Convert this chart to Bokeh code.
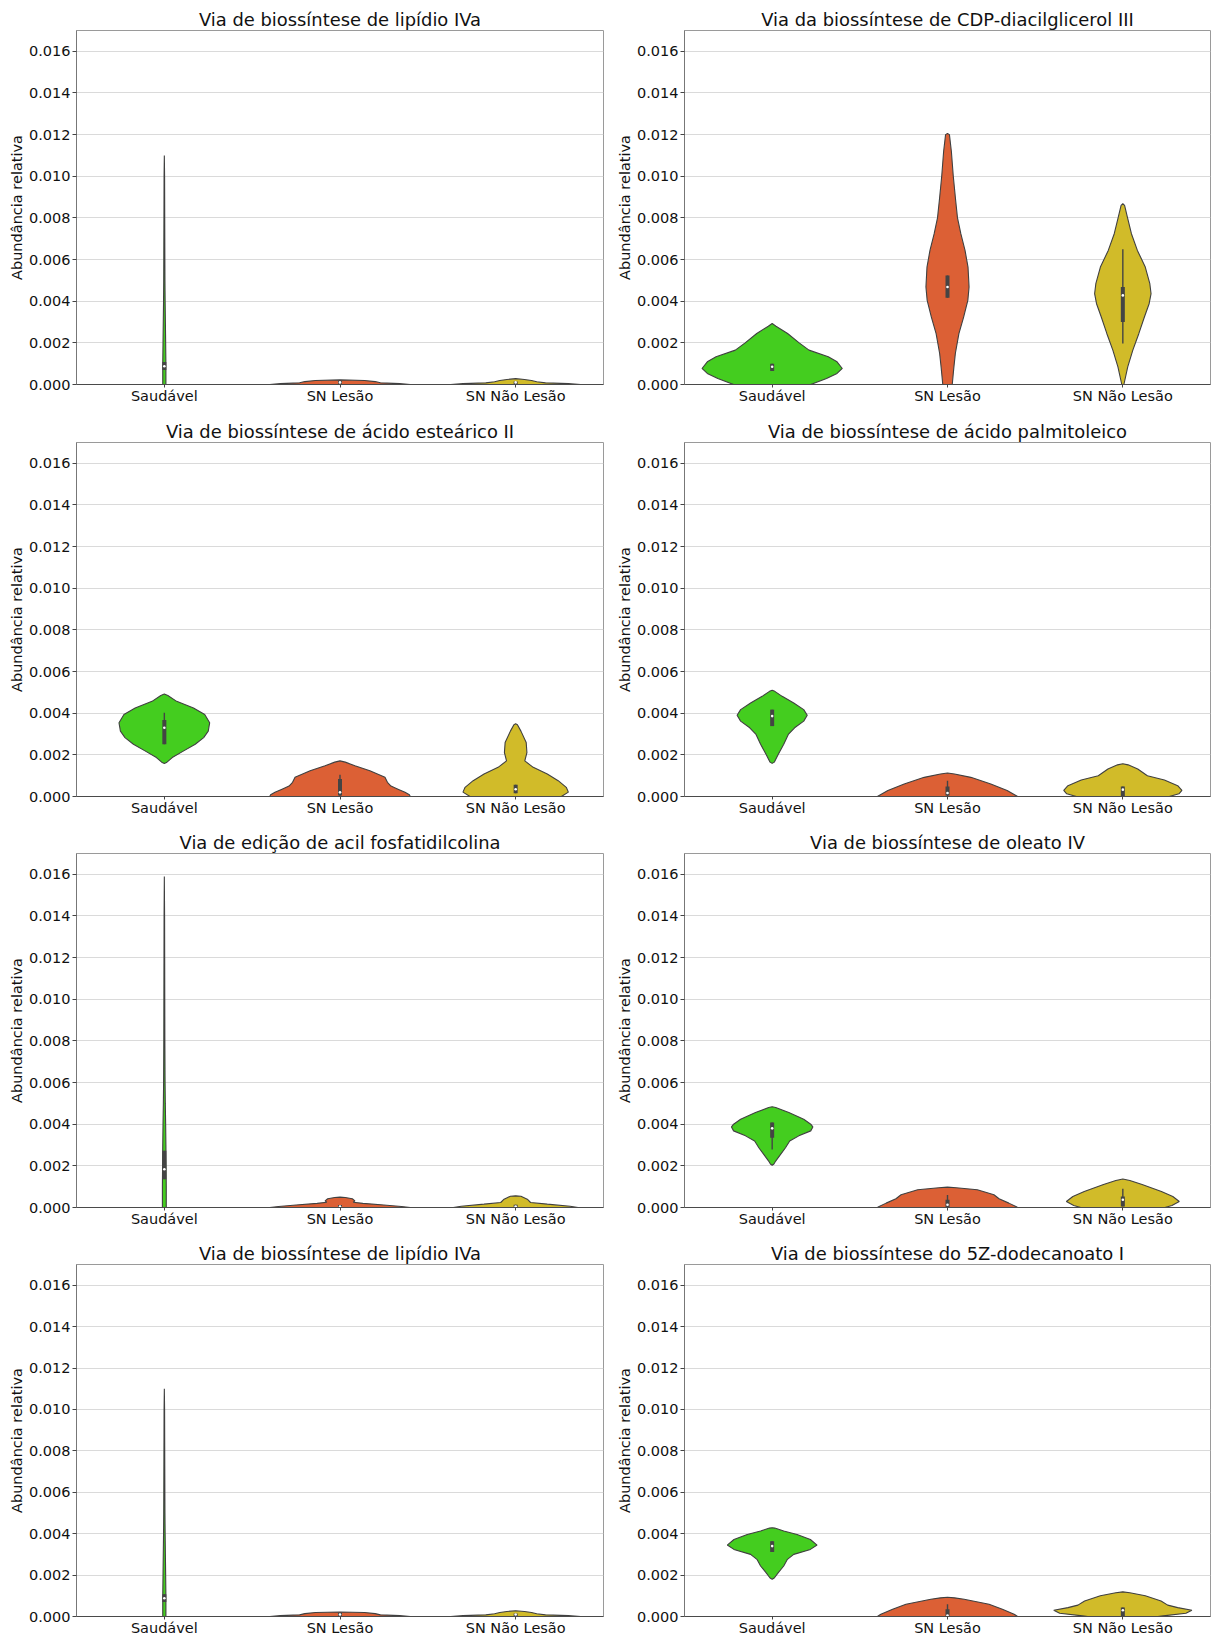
from bokeh.plotting import figure
from bokeh.layouts import gridplot
from bokeh.models import Range1d, FixedTicker, PrintfTickFormatter
from bokeh.embed import file_html
from bokeh.resources import INLINE

GROUPS = ["Saudável", "SN Lesão", "SN Não Lesão"]
FILLS = ["#44cd1f", "#dc6035", "#d1bb29"]
EDGE = "#404040"
Y_TICKS = [0.000, 0.002, 0.004, 0.006, 0.008, 0.010, 0.012, 0.014, 0.016]
Y_MAX = 0.017
FONT = "DejaVu Sans"

# Violin outlines per pathway: abundance levels (bottom to top) and the
# matching half widths in category units, one list per group.
# Inner boxes: lower whisker, q1, median, q3, upper whisker.

lipidio_y = [
    [-0.0005, 0.0, 0.001, 0.002, 0.003, 0.004, 0.005, 0.006, 0.008, 0.010, 0.0110],
    [-0.0005, 0.0, 0.00004, 0.00008, 0.00014, 0.00019, 0.00022],
    [-0.0005, 0.0, 0.00004, 0.00008, 0.00013, 0.00019, 0.00024, 0.00028],
]
lipidio_w = [
    [0.009, 0.009, 0.009, 0.0075, 0.006, 0.0045, 0.0035, 0.003, 0.0022, 0.0015, 0.0],
    [0.40, 0.40, 0.34, 0.23, 0.20, 0.14, 0.0],
    [0.37, 0.37, 0.30, 0.17, 0.12, 0.09, 0.05, 0.0],
]
lipidio_box = [
    [0.0007, 0.0007, 0.00088, 0.00108, 0.00108],
    [0.00004, 0.00004, 0.0001, 0.00018, 0.00018],
    [0.00003, 0.00003, 0.0001, 0.00015, 0.00015],
]

cdp_y = [
    [-0.0005, 0.0, 0.00029, 0.00053, 0.00077, 0.00109, 0.00133, 0.00165, 0.002, 0.00245, 0.0028, 0.00293],
    [-0.0006, 0.0, 0.0008, 0.0015, 0.00244, 0.00324, 0.00404, 0.00468, 0.00564, 0.00644,
     0.00724, 0.008, 0.0088, 0.010, 0.0112, 0.012, 0.01205],
    [-0.0001, 0.0, 0.00085, 0.00165, 0.00244, 0.00324, 0.00388, 0.00436, 0.00484, 0.00564,
     0.00644, 0.00724, 0.008, 0.0086, 0.00868],
]
cdp_w = [
    [0.10, 0.22, 0.31, 0.37, 0.40, 0.37, 0.32, 0.21, 0.154, 0.088, 0.022, 0.0],
    [0.012, 0.027, 0.036, 0.045, 0.065, 0.092, 0.116, 0.123, 0.117, 0.10,
     0.076, 0.057, 0.047, 0.033, 0.022, 0.011, 0.0],
    [0.0, 0.006, 0.028, 0.057, 0.091, 0.123, 0.15, 0.161, 0.154, 0.128,
     0.083, 0.049, 0.027, 0.01, 0.0],
]
cdp_box = [
    [0.00065, 0.00065, 0.00085, 0.001, 0.001],
    [0.00416, 0.00416, 0.00468, 0.00524, 0.00524],
    [0.00197, 0.003, 0.00428, 0.00468, 0.00649],
]

estearico_y = [
    [0.00159, 0.00165, 0.00187, 0.00219, 0.00251, 0.00283, 0.00314, 0.00354, 0.00394, 0.00425, 0.00457, 0.00485, 0.00492],
    [-0.0005, 0.0, 0.00008, 0.0002, 0.00035, 0.0005, 0.00068, 0.00092, 0.00124, 0.00148, 0.00165, 0.00171],
    [-0.0002, -0.0001, 0.0, 0.00021, 0.00044, 0.00076, 0.00108, 0.0014, 0.00171, 0.00211,
     0.00259, 0.00314, 0.00345, 0.00349],
]
estearico_w = [
    [0.0, 0.015, 0.045, 0.11, 0.176, 0.224, 0.25, 0.258, 0.23, 0.166, 0.07, 0.02, 0.0],
    [0.40, 0.40, 0.395, 0.37, 0.33, 0.29, 0.27, 0.256, 0.17, 0.085, 0.03, 0.0],
    [0.15, 0.22, 0.26, 0.30, 0.288, 0.242, 0.18, 0.10, 0.052, 0.064, 0.06, 0.03, 0.01, 0.0],
]
estearico_box = [
    [0.00251, 0.00251, 0.0033, 0.00367, 0.00402],
    [0.0, 0.00005, 0.0002, 0.00084, 0.00105],
    [0.00016, 0.00016, 0.00035, 0.00056, 0.00056],
]

palmitoleico_y = [
    [0.00159, 0.00165, 0.00203, 0.00251, 0.00298, 0.0033, 0.00362, 0.0039, 0.00417, 0.00449, 0.00481, 0.00505, 0.0051],
    [-0.0005, 0.0, 0.00005, 0.00029, 0.0006, 0.00092, 0.00108, 0.00113],
    [-0.00015, 0.0, 0.00013, 0.00029, 0.00052, 0.00079, 0.001, 0.00132, 0.00152, 0.00157],
]
palmitoleico_w = [
    [0.0, 0.012, 0.035, 0.066, 0.092, 0.128, 0.18, 0.20, 0.18, 0.123, 0.057, 0.015, 0.0],
    [0.40, 0.40, 0.39, 0.34, 0.247, 0.133, 0.04, 0.0],
    [0.10, 0.265, 0.32, 0.337, 0.313, 0.237, 0.14, 0.085, 0.03, 0.0],
]
palmitoleico_box = [
    [0.00338, 0.00338, 0.00386, 0.00417, 0.00417],
    [0.0, 0.00005, 0.00017, 0.00048, 0.00076],
    [0.0, 0.0, 0.00033, 0.00048, 0.00048],
]

acil_y = [
    [-0.0005, 0.0, 0.001, 0.002, 0.003, 0.004, 0.005, 0.006, 0.008, 0.010, 0.012, 0.014, 0.0159],
    [-0.0005, 0.0, 0.00005, 0.00012, 0.0002, 0.00025, 0.00032, 0.00042, 0.00048, 0.0005],
    [-0.0005, 0.0, 0.00006, 0.00016, 0.00024, 0.0004, 0.00054, 0.00056],
]
acil_w = [
    [0.011, 0.011, 0.011, 0.010, 0.009, 0.0075, 0.0055, 0.0042, 0.003, 0.0025, 0.002, 0.0015, 0.0],
    [0.40, 0.40, 0.35, 0.25, 0.13, 0.075, 0.085, 0.07, 0.03, 0.0],
    [0.355, 0.355, 0.31, 0.18, 0.085, 0.066, 0.03, 0.0],
]
acil_box = [
    [0.00136, 0.00136, 0.00184, 0.00272, 0.00272],
    [0.0, 0.0, 0.00005, 0.00012, 0.00012],
    [0.0, 0.0, 0.00005, 0.00013, 0.00013],
]

oleato_y = [
    [0.00203, 0.00209, 0.00223, 0.00255, 0.00287, 0.00319, 0.00344, 0.00368, 0.00387, 0.004, 0.00424, 0.00456, 0.0048, 0.00484],
    [-0.0005, 0.0, 0.00005, 0.00021, 0.00042, 0.00061, 0.00085, 0.00095, 0.00098],
    [-0.0002, 0.0, 0.0001, 0.00029, 0.00053, 0.00077, 0.0011, 0.0013, 0.00137],
]
oleato_w = [
    [0.0, 0.01, 0.02, 0.048, 0.076, 0.10, 0.152, 0.22, 0.232, 0.22, 0.18, 0.095, 0.02, 0.0],
    [0.40, 0.40, 0.39, 0.35, 0.294, 0.265, 0.17, 0.05, 0.0],
    [0.12, 0.24, 0.28, 0.322, 0.285, 0.22, 0.11, 0.04, 0.0],
]
oleato_box = [
    [0.00279, 0.00335, 0.0038, 0.00408, 0.00408],
    [0.0, 0.0, 0.00013, 0.00037, 0.0006],
    [0.00005, 0.00005, 0.00037, 0.00053, 0.0009],
]

dodecanoato_y = [
    [0.0018, 0.00186, 0.00212, 0.00244, 0.00276, 0.003, 0.00324, 0.00345, 0.00372, 0.00396, 0.00413, 0.00427, 0.00429],
    [-0.0005, 0.0, 0.00011, 0.00035, 0.00059, 0.00083, 0.0009, 0.00093],
    [-0.0001, 0.0, 0.00003, 0.00016, 0.0003, 0.00043, 0.00055, 0.00075, 0.001, 0.00115, 0.00119],
]
dodecanoato_w = [
    [0.0, 0.012, 0.035, 0.066, 0.087, 0.123, 0.218, 0.256, 0.218, 0.142, 0.066, 0.015, 0.0],
    [0.40, 0.40, 0.38, 0.313, 0.237, 0.095, 0.04, 0.0],
    [0.10, 0.20, 0.23, 0.36, 0.394, 0.313, 0.256, 0.218, 0.128, 0.04, 0.0],
]
dodecanoato_box = [
    [0.00311, 0.00311, 0.0034, 0.00364, 0.00364],
    [0.0, 0.0, 0.00005, 0.00035, 0.00059],
    [0.0, 0.0, 0.0003, 0.00043, 0.00043],
]

PANELS = [
    ("Via de biossíntese de lipídio IVa", lipidio_y, lipidio_w, lipidio_box),
    ("Via da biossíntese de CDP-diacilglicerol III", cdp_y, cdp_w, cdp_box),
    ("Via de biossíntese de ácido esteárico II", estearico_y, estearico_w, estearico_box),
    ("Via de biossíntese de ácido palmitoleico", palmitoleico_y, palmitoleico_w, palmitoleico_box),
    ("Via de edição de acil fosfatidilcolina", acil_y, acil_w, acil_box),
    ("Via de biossíntese de oleato IV", oleato_y, oleato_w, oleato_box),
    ("Via de biossíntese de lipídio IVa", lipidio_y, lipidio_w, lipidio_box),
    ("Via de biossíntese do 5Z-dodecanoato I", dodecanoato_y, dodecanoato_w, dodecanoato_box),
]

ROW_HEIGHTS = [412, 411, 411, 404]
TOP_BORDER = 30
FRAME_H = 354


def violin_panel(title, levels, widths, boxes, col, height):
    left = 76 if col == 0 else 78
    right = 3 if col == 0 else 2
    p = figure(
        width=606, height=height, title=title,
        x_range=Range1d(-0.5, 2.5), y_range=Range1d(0, Y_MAX),
        output_backend="svg", toolbar_location=None,
        min_border_left=left, min_border_right=right,
        min_border_top=TOP_BORDER, min_border_bottom=height - TOP_BORDER - FRAME_H,
        background_fill_color="white", border_fill_color="white",
    )
    p.title.text_font = FONT
    p.title.text_font_size = "17.9px"
    p.title.text_font_style = "normal"
    p.title.text_color = "#111111"
    p.title.align = "center"
    p.title.standoff = 2

    p.outline_line_color = "#9a9a9a"
    p.outline_line_width = 1

    p.xgrid.visible = False
    p.ygrid.grid_line_color = "#dadada"
    p.ygrid.grid_line_width = 1

    for ax in (p.xaxis, p.yaxis):
        ax.major_label_text_font = FONT
        ax.major_label_text_font_size = "14.5px"
        ax.major_label_text_color = "#111111"
        ax.major_tick_in = 0
        ax.major_tick_line_color = "#444444"
        ax.minor_tick_line_color = None

    p.xaxis.ticker = FixedTicker(ticks=[0, 1, 2])
    p.xaxis.major_label_overrides = {i: g for i, g in enumerate(GROUPS)}
    p.xaxis.axis_line_color = "#4a4a4a"
    p.xaxis.major_tick_out = 3
    p.xaxis.major_label_standoff = 0

    p.yaxis.ticker = FixedTicker(ticks=Y_TICKS)
    p.yaxis.formatter = PrintfTickFormatter(format="%.3f")
    p.yaxis.axis_line_color = "#777777"
    p.yaxis.major_tick_out = 4
    p.yaxis.major_label_standoff = 2
    p.yaxis.axis_label = "Abundância relativa"
    p.yaxis.axis_label_text_font = FONT
    p.yaxis.axis_label_text_font_size = "14.5px"
    p.yaxis.axis_label_text_font_style = "normal"
    p.yaxis.axis_label_text_color = "#111111"
    p.yaxis.axis_label_standoff = 1

    for i, (ys, ws, box) in enumerate(zip(levels, widths, boxes)):
        xs = [i + w for w in ws] + [i - w for w in reversed(ws)]
        yy = list(ys) + list(reversed(ys))
        p.patch(xs, yy, fill_color=FILLS[i], line_color=EDGE, line_width=1.1)
        lo, q1, med, q3, hi = box
        p.segment(x0=[i], y0=[lo], x1=[i], y1=[hi], line_color="#444444", line_width=1.4)
        p.segment(x0=[i], y0=[q1], x1=[i], y1=[q3], line_color="#444444", line_width=4)
        p.scatter(x=[i], y=[med], size=2.6, fill_color="white", line_color=None)
    return p


figs = []
for k, (title, levels, widths, boxes) in enumerate(PANELS):
    figs.append(violin_panel(title, levels, widths, boxes, k % 2, ROW_HEIGHTS[k // 2]))

grid = gridplot([figs[0:2], figs[2:4], figs[4:6], figs[6:8]], toolbar_location=None)

open("out.html", "w").write(file_html(grid, INLINE))
